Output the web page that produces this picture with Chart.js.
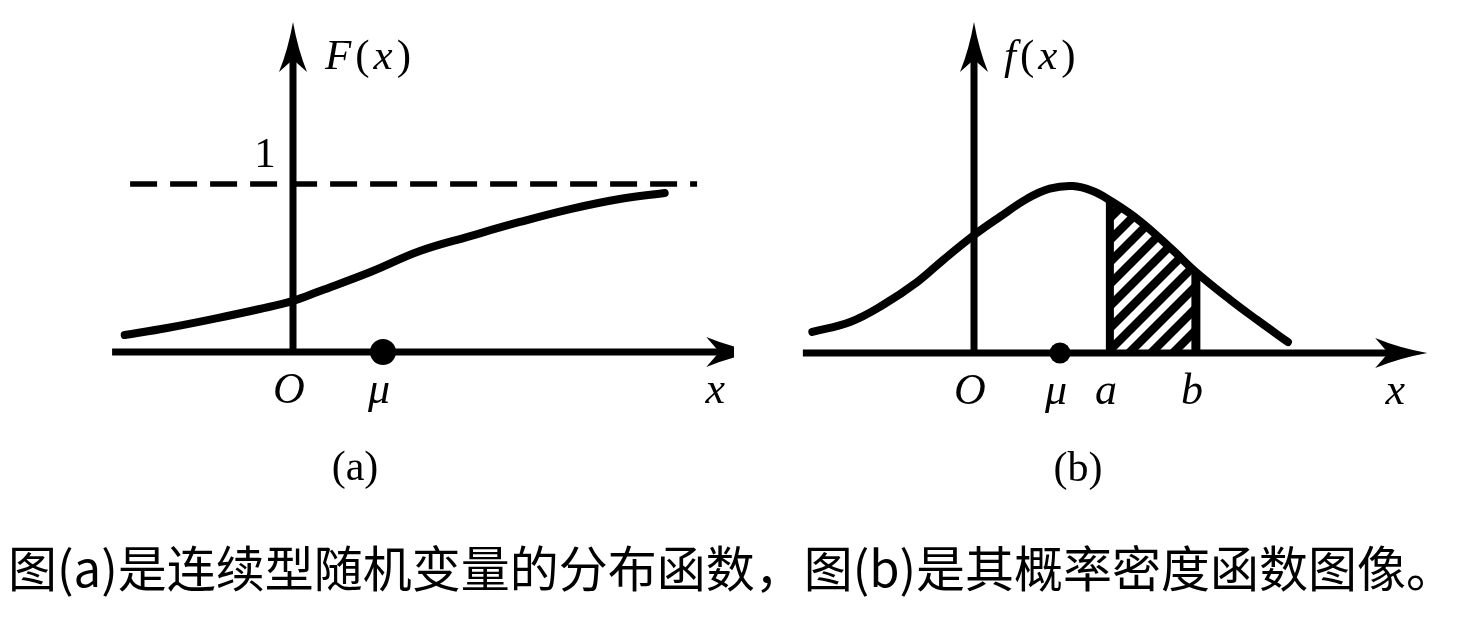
<!DOCTYPE html>
<html lang="zh-CN">
<head>
<meta charset="utf-8">
<script src="https://cdn.jsdelivr.net/npm/chart.js@4.4.1/dist/chart.umd.min.js"></script>
<style>
  html, body { margin: 0; padding: 0; background: #fff; }
  body { width: 1468px; height: 618px; position: relative; overflow: hidden; }
  canvas { position: absolute; top: 0; }
  #cdf { left: 0; }
  #pdf { left: 734px; }
  #caption {
    position: absolute; left: 8px; top: 541px;
    font: 49px/49px "Noto Sans CJK SC", sans-serif;
    white-space: nowrap; color: #000;
  }
</style>
</head>
<body>
<canvas id="cdf" width="734" height="500"></canvas>
<canvas id="pdf" width="734" height="500"></canvas>
<div id="caption">图(a)是连续型随机变量的分布函数，图(b)是其概率密度函数图像。</div>
<script>
// ── 데이터 (그림에서 읽은 값, μ = 1 단위) ──────────────
// (a) 분포함수 F(x)
const CDF_X = [-1.87, -1.40, -0.84, -0.37, 0, 0.30, 0.86, 1.41, 1.97, 2.52, 3.08, 3.63, 4.13];
const CDF_Y = [0.101, 0.143, 0.202, 0.256, 0.304, 0.363, 0.476, 0.601, 0.690, 0.774, 0.851, 0.911, 0.946];
const CDF_LIMIT = 1;          // 점선 y = 1
const CDF_MU = 1;
const CDF_TICKS = ["O", "μ"];
const CDF_TICK_VALUES = [0, CDF_MU];

// (b) 확률밀도함수 f(x)
const PDF_X = [-1.88, -1.44, -1.06, -0.66, -0.36, 0, 0.30, 0.62, 0.88, 1.15, 1.38, 1.58, 1.93, 2.31, 2.58, 2.98, 3.29, 3.65];
const PDF_Y = [0.127, 0.187, 0.289, 0.428, 0.560, 0.71, 0.82, 0.93, 0.99, 1.006, 0.976, 0.92, 0.795, 0.62, 0.488, 0.32, 0.20, 0.066];
const PDF_MU = 1;
const PDF_A = 1.58;
const PDF_B = 2.58;
const PDF_TICKS = ["O", "μ", "a", "b"];
const PDF_TICK_VALUES = [0, PDF_MU, PDF_A, PDF_B];

const SERIF = '"Liberation Serif", "DejaVu Serif", serif';

// 원점 픽셀과 단위 픽셀로 축 범위를 잡는다 (축은 숨김, chartArea = 캔버스 전체)
function spanX(originPx, unitPx, size) { return { min: -originPx / unitPx, max: (size - originPx) / unitPx }; }
function spanY(originPx, unitPx, size) { return { min: -(size - originPx) / unitPx, max: originPx / unitPx }; }

const pts = (xs, ys) => xs.map((x, i) => ({ x, y: ys[i] }));

// 빗금 패턴 (/ 방향)
function hatchPattern() {
  const s = 22, c = document.createElement("canvas");
  c.width = c.height = s;
  const g = c.getContext("2d");
  g.strokeStyle = "#000";
  g.lineWidth = 8.5;
  g.beginPath();
  for (const o of [-s, 0, s]) { g.moveTo(o - s, 2 * s); g.lineTo(o + 2 * s, -s); }
  g.stroke();
  return g.createPattern(c, "repeat");
}

// 화살촉
function arrowHead(ctx, tx, ty, dx, dy, len = 52, half = 15) {
  const nx = -dy, ny = dx;
  const bx = tx - dx * len, by = ty - dy * len;
  ctx.beginPath();
  ctx.moveTo(tx, ty);
  ctx.quadraticCurveTo(tx - dx * len * 0.55 + nx * half * 0.35, ty - dy * len * 0.55 + ny * half * 0.35, bx + nx * half, by + ny * half);
  ctx.lineTo(tx - dx * len * 0.75, ty - dy * len * 0.75);
  ctx.lineTo(bx - nx * half, by - ny * half);
  ctx.quadraticCurveTo(tx - dx * len * 0.55 - nx * half * 0.35, ty - dy * len * 0.55 - ny * half * 0.35, tx, ty);
  ctx.closePath();
  ctx.fill();
}

// 이탤릭/정체 섞인 글자 [text, italic] 들을 이어서 쓴다
function drawParts(ctx, parts, x, y, size, gap = 4) {
  ctx.textAlign = "left";
  ctx.textBaseline = "alphabetic";
  for (const [t, it] of parts) {
    ctx.font = `${it ? "italic " : ""}${size}px ${SERIF}`;
    ctx.fillText(t, x, y);
    x += ctx.measureText(t).width + gap;
  }
}

// ── 좌표축·라벨 플러그인 ──────────────────────────────
const axesPlugin = {
  id: "mathAxes",
  afterDatasetsDraw(chart, _args, o) {
    const { ctx, scales: { x, y } } = chart;
    const ox = x.getPixelForValue(0), oy = y.getPixelForValue(0);
    const left = x.getPixelForValue(o.xFrom), right = x.getPixelForValue(o.xTo);
    const top = y.getPixelForValue(o.yTo);
    ctx.save();
    ctx.strokeStyle = ctx.fillStyle = "#000";
    ctx.lineCap = "butt";
    ctx.lineWidth = o.axisWidth;
    ctx.beginPath();
    ctx.moveTo(left, oy); ctx.lineTo(right - 30, oy);
    ctx.moveTo(ox, oy + o.axisWidth / 2); ctx.lineTo(ox, top + 30);
    ctx.stroke();
    arrowHead(ctx, right, oy, 1, 0);
    arrowHead(ctx, ox, top, 0, -1, 50, 14);

    // 가로축 눈금 이름
    ctx.font = `italic 44px ${SERIF}`;
    ctx.textAlign = "center";
    o.ticks.forEach((t, i) => ctx.fillText(t, x.getPixelForValue(o.tickValues[i]) - 4, oy + 51));
    ctx.fillText("x", right - o.xNameOffset, oy + 51);

    // 세로축 이름
    drawParts(ctx, o.yName, ox + o.yNameDx, top + 47, 43);

    // y = 1 눈금
    if (o.oneLabel) {
      ctx.font = `43px ${SERIF}`;
      ctx.textAlign = "center";
      ctx.fillText("1", ox - 28, y.getPixelForValue(o.oneLabel) - 17);
    }

    // 그림 번호
    ctx.font = `42px ${SERIF}`;
    ctx.textAlign = "center";
    ctx.fillText(o.panel, ox + o.panelDx, oy + 128);
    ctx.restore();
  },
};

function baseOptions(sx, sy, mathAxes) {
  return {
    responsive: false,
    animation: false,
    events: [],
    layout: { padding: 0, autoPadding: false },
    scales: {
      x: { type: "linear", display: false, min: sx.min, max: sx.max },
      y: { type: "linear", display: false, min: sy.min, max: sy.max },
    },
    plugins: { legend: { display: false }, tooltip: { enabled: false }, mathAxes },
  };
}

// ── (a) 분포함수 ─────────────────────────────────────
new Chart(document.getElementById("cdf"), {
  type: "scatter",
  data: {
    datasets: [
      { data: [{ x: CDF_MU, y: 0 }], pointRadius: 13, pointBackgroundColor: "#000", pointBorderWidth: 0, order: 0 },
      {
        data: pts(CDF_X, CDF_Y), showLine: true, pointRadius: 0,
        borderColor: "#000", borderWidth: 8, borderCapStyle: "round",
        tension: 0.4, order: 1,
      },
      {
        data: [{ x: -1.81, y: CDF_LIMIT }, { x: 4.49, y: CDF_LIMIT }], showLine: true, pointRadius: 0,
        borderColor: "#000", borderWidth: 5.5, borderDash: [27, 13], order: 2,
      },
    ],
  },
  options: baseOptions(spanX(293, 90, 734), spanY(352, 168, 500), {
    xFrom: -2.01, xTo: 5.17, yTo: 1.964, axisWidth: 7,
    ticks: CDF_TICKS, tickValues: CDF_TICK_VALUES, xNameOffset: 43,
    yName: [["F", true], ["(", false], ["x", true], [")", false]], yNameDx: 32,
    oneLabel: CDF_LIMIT, panel: "(a)", panelDx: 62,
  }),
  plugins: [axesPlugin],
});

// ── (b) 확률밀도함수 ─────────────────────────────────
const pdfCurve = pts(PDF_X, PDF_Y);
const shade = pdfCurve.filter((p) => p.x >= PDF_A && p.x <= PDF_B);
const fA = shade[0].y, fB = shade[shade.length - 1].y;

new Chart(document.getElementById("pdf"), {
  type: "scatter",
  data: {
    datasets: [
      { data: [{ x: PDF_MU, y: 0 }], pointRadius: 10.5, pointBackgroundColor: "#000", pointBorderWidth: 0, order: 0 },
      {
        data: pdfCurve, showLine: true, pointRadius: 0,
        borderColor: "#000", borderWidth: 8, borderCapStyle: "round", tension: 0.4, order: 1,
      },
      {
        data: [{ x: PDF_A, y: 0 }, { x: PDF_A, y: fA }], showLine: true, pointRadius: 0,
        borderColor: "#000", borderWidth: 8, order: 2,
      },
      {
        data: [{ x: PDF_B, y: 0 }, { x: PDF_B, y: fB }], showLine: true, pointRadius: 0,
        borderColor: "#000", borderWidth: 9, order: 2,
      },
      {
        data: shade, showLine: true, pointRadius: 0, borderWidth: 0, tension: 0.4,
        fill: "origin", backgroundColor: hatchPattern(), order: 3,
      },
    ],
  },
  options: baseOptions(spanX(240, 86, 734), spanY(353, 166, 500), {
    xFrom: -1.99, xTo: 5.27, yTo: 1.994, axisWidth: 7,
    ticks: PDF_TICKS, tickValues: PDF_TICK_VALUES, xNameOffset: 32,
    yName: [["f", true], ["(", false], ["x", true], [")", false]], yNameDx: 30,
    oneLabel: null, panel: "(b)", panelDx: 104,
  }),
  plugins: [axesPlugin],
});
</script>
</body>
</html>
